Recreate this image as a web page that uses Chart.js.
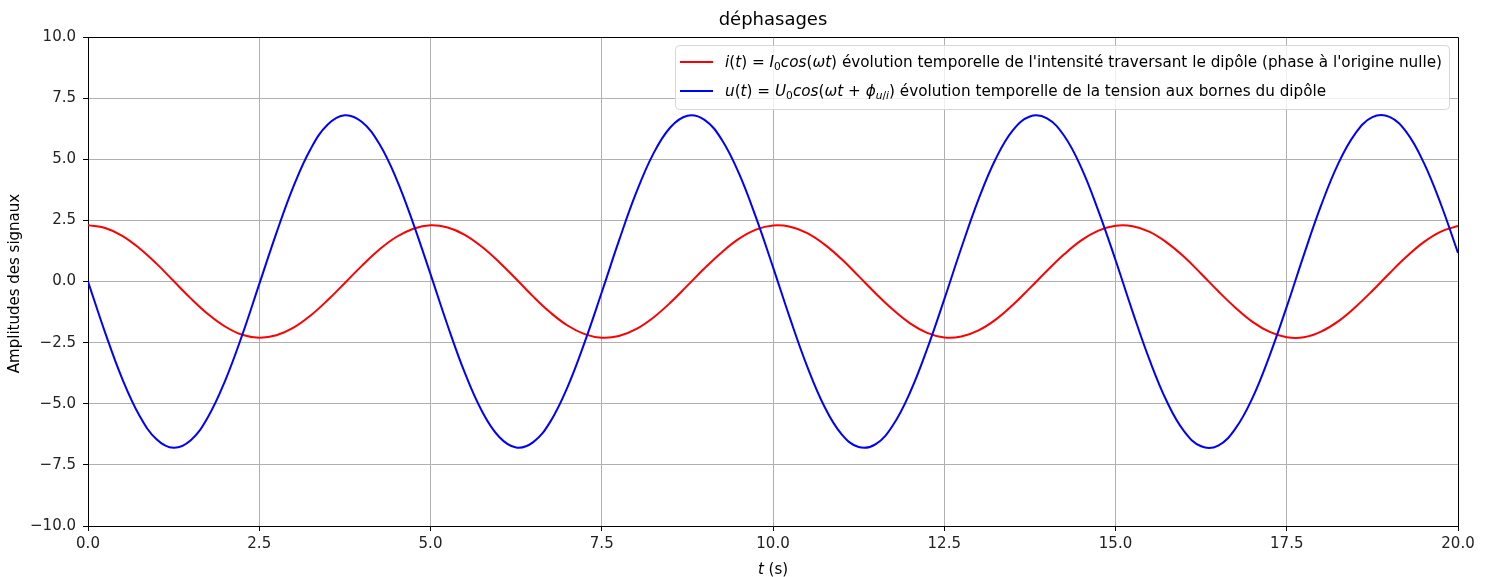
<!DOCTYPE html>
<html>
<head>
<meta charset="utf-8">
<script src="https://cdn.jsdelivr.net/npm/chart.js@4.4.1/dist/chart.umd.min.js"></script>
<style>
html,body{margin:0;padding:0;background:#fff;}
canvas{display:block;}
</style>
</head>
<body>
<canvas id="c" width="1491" height="577"></canvas>
<script>
// ---- data ----
const timeValues = [0,0.25,0.5,0.75,1,1.25,1.5,1.75,2,2.25,2.5,2.75,3,3.25,3.5,3.75,4,4.25,4.5,4.75,
  5,5.25,5.5,5.75,6,6.25,6.5,6.75,7,7.25,7.5,7.75,8,8.25,8.5,8.75,9,9.25,9.5,9.75,
  10,10.25,10.5,10.75,11,11.25,11.5,11.75,12,12.25,12.5,12.75,13,13.25,13.5,13.75,14,14.25,14.5,14.75,
  15,15.25,15.5,15.75,16,16.25,16.5,16.75,17,17.25,17.5,17.75,18,18.25,18.5,18.75,19,19.25,19.5,19.75,20];

const intensity = [2.30,2.19,1.87,1.36,0.73,0.02,-0.69,-1.33,-1.84,-2.18,-2.30,-2.20,-1.89,-1.39,-0.76,-0.06,
  0.65,1.30,1.82,2.16,2.30,2.21,1.91,1.42,0.80,0.10,-0.62,-1.27,-1.80,-2.15,-2.30,-2.23,-1.95,
  -1.48,-0.87,-0.17,0.54,1.19,1.74,2.12,2.29,2.24,1.98,1.52,0.92,0.22,-0.49,-1.15,-1.71,-2.10,-2.29,
  -2.25,-2.00,-1.56,-0.96,-0.27,0.44,1.11,1.68,2.08,2.28,2.26,2.03,1.59,1.01,0.32,-0.40,-1.07,-1.65,
  -2.06,-2.28,-2.28,-2.05,-1.63,-1.05,-0.38,0.34,1.02,1.61,2.04,2.27];

const tension = [0.00,-2.09,-3.98,-5.48,-6.45,-6.80,-6.49,-5.55,-4.07,-2.20,-0.11,1.98,3.89,5.42,6.42,6.80,
  6.52,5.64,4.21,2.36,0.30,-1.80,-3.73,-5.30,-6.35,-6.79,-6.57,-5.73,-4.32,-2.49,-0.44,1.66,3.61,
  5.21,6.30,6.78,6.61,5.81,4.44,2.63,0.59,-1.52,-3.48,-5.11,-6.24,-6.77,-6.65,-5.88,-4.54,-2.76,-0.73,
  1.38,3.36,5.01,6.18,6.75,6.67,5.96,4.66,2.89,0.88,-1.24,-3.23,-4.91,-6.12,-6.74,-6.71,-6.02,-4.76,
  -3.03,-1.03,1.09,3.10,4.81,6.05,6.72,6.73,6.10,4.86,3.16,1.17];

const xTickValues = [0,2.5,5,7.5,10,12.5,15,17.5,20];
const yTickValues = [-10,-7.5,-5,-2.5,0,2.5,5,7.5,10];

const titleText = 'déphasages';
const xLabelParts = [{t:'t',it:true},{t:' (s)'}];
const yLabelText = 'Amplitudes des signaux';
const legendRows = [
  {color:'#ff0000', parts:[{t:'i',it:true},{t:'('},{t:'t',it:true},{t:')'},{t:' = '},{t:'I',it:true},{t:'0',sub:true},
    {t:'cos',it:true},{t:'('},{t:'ωt',it:true},{t:')'},
    {t:" évolution temporelle de l'intensité traversant le dipôle (phase à l'origine nulle)"}]},
  {color:'#0000ff', parts:[{t:'u',it:true},{t:'('},{t:'t',it:true},{t:')'},{t:' = '},{t:'U',it:true},{t:'0',sub:true},
    {t:'cos',it:true},{t:'('},{t:'ωt',it:true},{t:' + '},{t:'ϕ',it:true},{t:'u',it:true,sub:true},{t:'/',sub:true},{t:'i',it:true,sub:true},{t:')'},
    {t:' évolution temporelle de la tension aux bornes du dipôle'}]}
];

// ---- helpers ----
const FAM = '"DejaVu Sans", sans-serif';
function fmt(v){ return (v < 0 ? '\u2212' : '') + Math.abs(v).toFixed(1); }
function partFont(p, size){
  const s = p.sub ? size*0.7 : size;
  return (p.it ? 'italic ' : '') + s + 'px ' + FAM;
}
function richWidth(ctx, parts, size){
  let w = 0;
  for (const p of parts){ ctx.font = partFont(p,size); w += ctx.measureText(p.t).width; }
  return w;
}
function drawRich(ctx, parts, x, y, size){
  let cx = x;
  for (const p of parts){
    ctx.font = partFont(p,size);
    ctx.fillText(p.t, cx, y + (p.sub ? size*0.22 : 0));
    cx += ctx.measureText(p.t).width;
  }
}

const decorPlugin = {
  id:'decor',
  afterDraw(chart){
    const ctx = chart.ctx, ca = chart.chartArea;
    ctx.save();
    // frame (top and right spines; left/bottom are the axis borders)
    ctx.strokeStyle = '#000'; ctx.lineWidth = 1;
    const L = Math.round(ca.left)+0.5, T = Math.round(ca.top)+0.5, R = Math.round(ca.right)+0.5, B = Math.round(ca.bottom)+0.5;
    ctx.beginPath();
    ctx.moveTo(L, T); ctx.lineTo(R, T); ctx.lineTo(R, B);
    ctx.stroke();
    // title
    ctx.fillStyle = '#000'; ctx.textAlign = 'center'; ctx.textBaseline = 'alphabetic';
    ctx.font = '18px ' + FAM;
    const cxm = (ca.left + ca.right)/2;
    ctx.fillText(titleText, cxm, 25);
    // x label
    ctx.textAlign = 'left';
    const xw = richWidth(ctx, xLabelParts, 15);
    drawRich(ctx, xLabelParts, cxm - xw/2, 574, 15);
    // y label
    ctx.save();
    ctx.translate(19, (ca.top+ca.bottom)/2 + 2);
    ctx.rotate(-Math.PI/2);
    ctx.textAlign = 'center';
    ctx.font = '15px ' + FAM;
    ctx.fillText(yLabelText, 0, 0);
    ctx.restore();
    // legend box
    const bx = 675.5, by = 45.5, bw = 774, bh = 64, r = 4;
    ctx.beginPath();
    ctx.moveTo(bx+r, by); ctx.lineTo(bx+bw-r, by); ctx.quadraticCurveTo(bx+bw, by, bx+bw, by+r);
    ctx.lineTo(bx+bw, by+bh-r); ctx.quadraticCurveTo(bx+bw, by+bh, bx+bw-r, by+bh);
    ctx.lineTo(bx+r, by+bh); ctx.quadraticCurveTo(bx, by+bh, bx, by+bh-r);
    ctx.lineTo(bx, by+r); ctx.quadraticCurveTo(bx, by, bx+r, by);
    ctx.closePath();
    ctx.fillStyle = 'rgba(255,255,255,0.8)'; ctx.fill();
    ctx.strokeStyle = '#d6d6d6'; ctx.lineWidth = 1; ctx.stroke();
    // legend entries
    const size = 15;
    const natural = richWidth(ctx, legendRows[0].parts, size);
    const sx = 717 / natural;
    const rowY = [62, 91];
    legendRows.forEach((row, i) => {
      ctx.strokeStyle = row.color; ctx.lineWidth = 2;
      ctx.beginPath(); ctx.moveTo(680, rowY[i]); ctx.lineTo(713, rowY[i]); ctx.stroke();
      ctx.save();
      ctx.translate(725, rowY[i] + 5);
      ctx.scale(sx, 1);
      ctx.fillStyle = '#000'; ctx.textAlign = 'left';
      drawRich(ctx, row.parts, 0, 0, size);
      ctx.restore();
    });
    ctx.restore();
  }
};

const tickFont = {family:'DejaVu Sans', size:15};
new Chart(document.getElementById('c'), {
  type:'line',
  data:{
    datasets:[
      {label:'i(t)', data: timeValues.map((t,k)=>({x:t, y:intensity[k]})), borderColor:'#ff0000', borderWidth:2, tension:0.4, pointRadius:0, fill:false, order:2},
      {label:'u(t)', data: timeValues.map((t,k)=>({x:t, y:tension[k]})), borderColor:'#0000ff', borderWidth:2, tension:0.4, pointRadius:0, fill:false, order:1}
    ]
  },
  options:{
    responsive:false, animation:false, devicePixelRatio:1,
    layout:{padding:{left:0, right:33, top:37, bottom:0}},
    plugins:{legend:{display:false}, title:{display:false}, tooltip:{enabled:false}},
    scales:{
      x:{type:'linear', min:0, max:20,
        afterBuildTicks(s){ s.ticks = xTickValues.map(v=>({value:v})); },
        afterFit(s){ s.height = 51; },
        ticks:{callback:v=>fmt(v), font:tickFont, color:'#222', padding:4, maxRotation:0, autoSkip:false},
        grid:{color:'#b0b0b0', lineWidth:1, tickLength:5, tickColor:'#000'},
        border:{color:'#000', width:1}
      },
      y:{type:'linear', min:-10, max:10,
        afterBuildTicks(s){ s.ticks = yTickValues.map(v=>({value:v})); },
        afterFit(s){ s.width = 88; },
        ticks:{callback:v=>fmt(v), font:tickFont, color:'#222', padding:7, autoSkip:false},
        grid:{color:'#b0b0b0', lineWidth:1, tickLength:5, tickColor:'#000'},
        border:{color:'#000', width:1}
      }
    }
  },
  plugins:[decorPlugin]
});
</script>
</body>
</html>
